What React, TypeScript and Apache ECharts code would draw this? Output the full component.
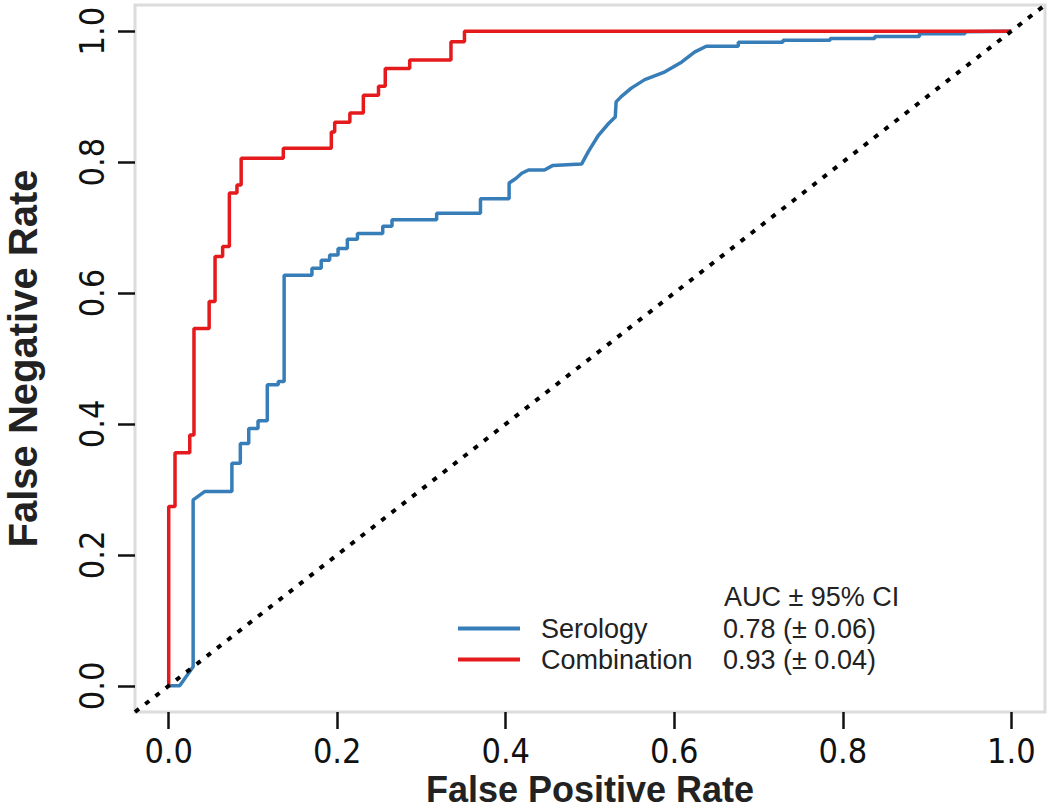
import React, { useEffect, useRef } from "react";
import * as echarts from "echarts";

// ---- data ----
const tickValues = [0, 0.2, 0.4, 0.6, 0.8, 1.0];

const seriesNames = ["Serology", "Combination"];
const aucLabels = ["0.78 (± 0.06)", "0.93 (± 0.04)"];
const aucHeader = "AUC ± 95% CI";
const xTitle = "False Positive Rate";
const yTitle = "False Negative Rate";

const serologyFPR = [
  0, 0.013, 0.029, 0.029, 0.043, 0.075, 0.075, 0.085, 0.085, 0.095, 0.095, 0.106, 0.106, 0.117, 0.117,
  0.13, 0.13, 0.137, 0.137, 0.17, 0.17, 0.181, 0.181, 0.191, 0.191, 0.201, 0.201, 0.212, 0.212, 0.224,
  0.224, 0.254, 0.254, 0.265, 0.265, 0.318, 0.318, 0.37, 0.37, 0.404, 0.404, 0.412, 0.419, 0.427, 0.446,
  0.456, 0.49, 0.498, 0.51, 0.522, 0.53, 0.531, 0.537, 0.549, 0.565, 0.589, 0.609, 0.624, 0.638, 0.676,
  0.676, 0.729, 0.729, 0.785, 0.785, 0.838, 0.838, 0.891, 0.891, 0.945, 0.945, 1.0,
];
const serologyTPR = [
  0, 0, 0.029, 0.284, 0.297, 0.297, 0.34, 0.34, 0.37, 0.37, 0.393, 0.393, 0.405, 0.405, 0.46,
  0.46, 0.465, 0.465, 0.627, 0.627, 0.638, 0.638, 0.65, 0.65, 0.658, 0.658, 0.668, 0.668, 0.682, 0.682,
  0.691, 0.691, 0.702, 0.702, 0.712, 0.712, 0.722, 0.722, 0.744, 0.744, 0.768, 0.775, 0.783, 0.788, 0.788,
  0.795, 0.797, 0.816, 0.841, 0.859, 0.869, 0.892, 0.9, 0.913, 0.926, 0.938, 0.953, 0.968, 0.977, 0.977,
  0.983, 0.983, 0.986, 0.986, 0.989, 0.989, 0.992, 0.992, 0.996, 0.996, 0.999, 1.0,
];

const combinationFPR = [
  0, 0, 0.0075, 0.0075, 0.025, 0.025, 0.03, 0.03, 0.048, 0.048, 0.055, 0.055, 0.064, 0.064, 0.072,
  0.072, 0.081, 0.081, 0.086, 0.086, 0.136, 0.136, 0.193, 0.193, 0.197, 0.197, 0.215, 0.215, 0.231,
  0.231, 0.249, 0.249, 0.257, 0.257, 0.286, 0.286, 0.335, 0.335, 0.351, 0.351, 1.0,
];
const combinationTPR = [
  0, 0.274, 0.274, 0.356, 0.356, 0.383, 0.383, 0.546, 0.546, 0.587, 0.587, 0.656, 0.656, 0.671, 0.671,
  0.753, 0.753, 0.765, 0.765, 0.806, 0.806, 0.821, 0.821, 0.846, 0.846, 0.861, 0.861, 0.875, 0.875,
  0.902, 0.902, 0.916, 0.916, 0.943, 0.943, 0.956, 0.956, 0.984, 0.984, 1.0, 1.0,
];

const diagonalX = [-0.04, 1.04];
const diagonalY = [-0.04, 1.04];

const seriesColors = ["#377eb8", "#e41a1c"];

const narrowFont = "'Liberation Sans Narrow', 'DejaVu Sans Condensed', 'Liberation Sans', sans-serif";
const sansFont = "'Liberation Sans', Arial, sans-serif";

const zip = (xs: number[], ys: number[]) => xs.map((x, i) => [x, ys[i]]);

export default function App() {
  const ref = useRef<HTMLDivElement>(null);

  useEffect(() => {
    if (!ref.current) return;
    const chart = echarts.init(ref.current, undefined, { renderer: "svg" });

    const axisCommon = {
      type: "value" as const,
      min: -0.04,
      max: 1.04,
      axisLine: { show: false, onZero: false },
      splitLine: { show: false },
      axisTick: {
        show: true,
        customValues: tickValues,
        length: 17,
        lineStyle: { color: "#111", width: 2.5 },
      },
    };

    chart.setOption({
      animation: false,
      backgroundColor: "#ffffff",
      title: {
        text: aucHeader,
        left: 724,
        top: 583,
        textStyle: { fontSize: 27, fontWeight: "normal", color: "#222", fontFamily: sansFont },
        padding: 0,
      },
      grid: {
        left: 135,
        top: 5,
        width: 910,
        height: 707,
        show: true,
        borderColor: "#dcdcdc",
        borderWidth: 3,
        containLabel: false,
        outerBoundsMode: "none",
      },
      xAxis: {
        ...axisCommon,
        axisLabel: {
          customValues: tickValues,
          formatter: (v: number) => v.toFixed(1),
          fontSize: 34,
          fontFamily: narrowFont,
          color: "#111",
          margin: 22,
        },
        name: xTitle,
        nameLocation: "middle",
        nameGap: 60,
        nameMoveOverlap: false,
        nameTextStyle: { fontSize: 36, fontWeight: "bold", color: "#222", fontFamily: sansFont, lineHeight: 34 },
      },
      yAxis: {
        ...axisCommon,
        axisLabel: {
          customValues: tickValues,
          formatter: (v: number) => v.toFixed(1),
          fontSize: 34,
          fontFamily: narrowFont,
          color: "#111",
          rotate: 90,
          margin: 26,
        },
        name: yTitle,
        nameLocation: "middle",
        nameRotate: 90,
        nameGap: 92,
        nameTextStyle: { fontSize: 40, fontWeight: "bold", color: "#222", fontFamily: sansFont },
      },
      legend: {
        data: seriesNames,
        orient: "vertical",
        left: 458,
        top: 613,
        padding: 0,
        itemWidth: 62,
        itemHeight: 4,
        itemGap: 0,
        icon: "rect",
        formatter: (name: string) => {
          const i = seriesNames.indexOf(name);
          return `{a|${name}}{b|${aucLabels[i]}}`;
        },
        textStyle: {
          fontSize: 27,
          color: "#222",
          fontFamily: sansFont,
          lineHeight: 31,
          rich: {
            a: { fontSize: 27, width: 182, padding: [0, 0, 0, 16], fontFamily: sansFont, color: "#222" },
            b: { fontSize: 27, fontFamily: sansFont, color: "#222" },
          },
        },
      },
      series: [
        {
          name: seriesNames[0],
          type: "line",
          data: zip(serologyFPR, serologyTPR),
          showSymbol: false,
          symbol: "none",
          lineStyle: { width: 3.5, color: seriesColors[0] },
          itemStyle: { color: seriesColors[0] },
          z: 2,
        },
        {
          name: seriesNames[1],
          type: "line",
          data: zip(combinationFPR, combinationTPR),
          showSymbol: false,
          symbol: "none",
          lineStyle: { width: 3.5, color: seriesColors[1] },
          itemStyle: { color: seriesColors[1] },
          z: 3,
        },
        {
          name: "reference",
          type: "line",
          data: zip(diagonalX, diagonalY),
          showSymbol: false,
          symbol: "none",
          lineStyle: { width: 4, color: "#000", type: [5, 8] },
          z: 4,
          silent: true,
        },
      ],
    });

    return () => chart.dispose();
  }, []);

  return (
    <div
      ref={ref}
      style={{ position: "fixed", left: 0, top: 0, width: 1050, height: 808, background: "#fff" }}
    />
  );
}
